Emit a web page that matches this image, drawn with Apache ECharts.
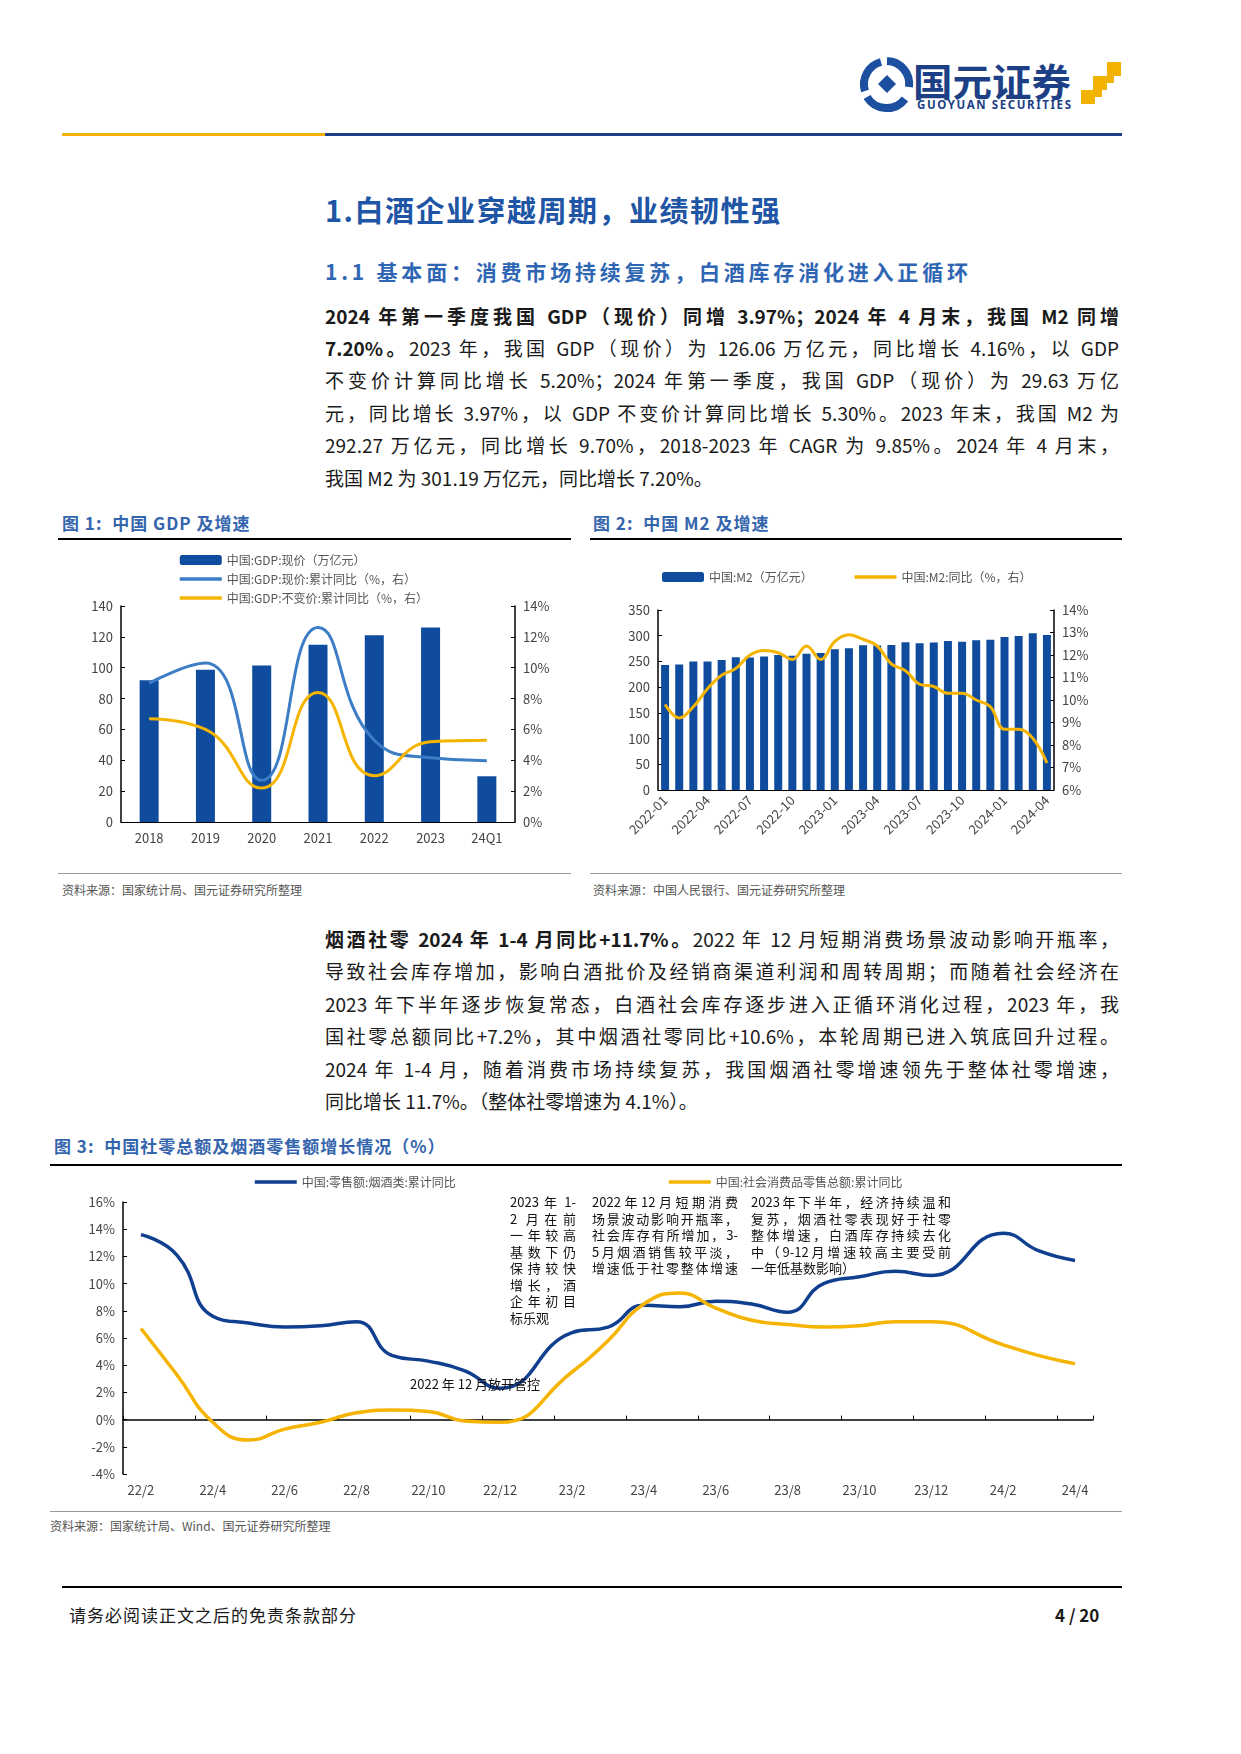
<!DOCTYPE html>
<html><head><meta charset="utf-8">
<script src="https://cdn.jsdelivr.net/npm/echarts@6/dist/echarts.min.js"></script>
<style>
html,body{margin:0;padding:0;background:#fff;}
#page{position:relative;width:1241px;height:1754px;background:#fff;font-family:"Noto Sans CJK SC","Noto Sans",sans-serif;color:#1a1a1a;overflow:hidden;}
.abs{position:absolute;}
.pl{position:absolute;left:325px;width:794px;height:32px;line-height:32px;font-size:19px;white-space:nowrap;text-align:justify;text-align-last:justify;}
.pl.last{text-align-last:left;}
.figt{position:absolute;font-size:17px;font-weight:bold;color:#3565ad;letter-spacing:1px;line-height:22px;}
.src{position:absolute;font-size:12px;color:#555;line-height:16px;}
.ann{position:absolute;font-size:13px;line-height:16.5px;color:#111;z-index:5;}
.ann div{white-space:nowrap;text-align:justify;text-align-last:justify;}
.ann div.last{text-align-last:left;}
.chart{position:absolute;}
</style></head>
<body><div id="page">

<!-- logo -->
<svg class="abs" style="left:855px;top:55px" width="270" height="60" viewBox="0 0 270 60">
  <path d="M32 6 A23 23 0 0 1 54 32" fill="none" stroke="#1c4fa0" stroke-width="8"/>
  <path d="M50 44 A23 23 0 0 1 12 42" fill="none" stroke="#1c4fa0" stroke-width="8"/>
  <path d="M10 36 A23 23 0 0 1 26 7" fill="none" stroke="#1c4fa0" stroke-width="8"/>
  <polygon points="32,20 41,29 32,38 23,29" fill="#1c4fa0"/>
  <text x="58" y="41" font-size="38" font-weight="bold" fill="#1c3f86" font-family="Noto Sans CJK SC" textLength="158" lengthAdjust="spacingAndGlyphs">国元证券</text>
  <text x="62" y="54" font-size="11.5" font-weight="bold" fill="#1c3f86" font-family="Noto Sans" textLength="154" lengthAdjust="spacing">GUOYUAN SECURITIES</text>
  <rect x="252" y="7" width="14" height="14" fill="#f2b300"/>
  <rect x="238" y="21" width="14" height="14" fill="#f2b300"/>
  <rect x="252" y="21" width="7" height="7" fill="#f2b300"/>
  <rect x="226" y="35" width="14" height="14" fill="#f2b300"/>
  <rect x="240" y="35" width="7" height="7" fill="#f2b300"/>
</svg>
<div class="abs" style="left:62px;top:133px;width:263px;height:3px;background:#f2b300"></div>
<div class="abs" style="left:325px;top:133px;width:797px;height:3px;background:#1c3f86"></div>

<div class="abs" style="left:325px;top:190px;font-size:29px;font-weight:bold;color:#1f55a5;line-height:38px;letter-spacing:1.5px;">1.白酒企业穿越周期，业绩韧性强</div>
<div class="abs" style="left:325px;top:257px;font-size:21px;font-weight:bold;color:#2f66b3;line-height:28px;letter-spacing:3.8px;">1.1 基本面：消费市场持续复苏，白酒库存消化进入正循环</div>

<div class="pl" style="top:300px"><b>2024 年第一季度我国 GDP（现价）同增 3.97%；2024 年 4 月末，我国 M2 同增</b></div>
<div class="pl" style="top:332px"><b>7.20%。</b>2023 年，我国 GDP（现价）为 126.06 万亿元，同比增长 4.16%，以 GDP</div>
<div class="pl" style="top:364px">不变价计算同比增长 5.20%；2024 年第一季度，我国 GDP（现价）为 29.63 万亿</div>
<div class="pl" style="top:397px">元，同比增长 3.97%，以 GDP 不变价计算同比增长 5.30%。2023 年末，我国 M2 为</div>
<div class="pl" style="top:429px">292.27 万亿元，同比增长 9.70%，2018-2023 年 CAGR 为 9.85%。2024 年 4 月末，</div>
<div class="pl last" style="top:462px">我国 M2 为 301.19 万亿元，同比增长 7.20%。</div>

<div class="figt" style="left:62px;top:512px">图 1:&nbsp; 中国 GDP 及增速</div>
<div class="abs" style="left:58px;top:538px;width:513px;height:1.5px;background:#000"></div>
<div class="figt" style="left:593px;top:512px">图 2:&nbsp; 中国 M2 及增速</div>
<div class="abs" style="left:590px;top:538px;width:532px;height:1.5px;background:#000"></div>

<div id="c1" class="chart" style="left:58px;top:545px;width:513px;height:325px"></div>
<div id="c2" class="chart" style="left:590px;top:545px;width:532px;height:325px"></div>

<div class="abs" style="left:58px;top:873px;width:513px;height:1px;background:#999"></div>
<div class="abs" style="left:590px;top:873px;width:532px;height:1px;background:#999"></div>
<div class="src" style="left:62px;top:882px">资料来源：国家统计局、国元证券研究所整理</div>
<div class="src" style="left:593px;top:882px">资料来源：中国人民银行、国元证券研究所整理</div>

<div class="pl" style="top:923px"><b>烟酒社零 2024 年 1-4 月同比+11.7%。</b>2022 年 12 月短期消费场景波动影响开瓶率，</div>
<div class="pl" style="top:955px">导致社会库存增加，影响白酒批价及经销商渠道利润和周转周期；而随着社会经济在</div>
<div class="pl" style="top:988px">2023 年下半年逐步恢复常态，白酒社会库存逐步进入正循环消化过程，2023 年，我</div>
<div class="pl" style="top:1020px">国社零总额同比+7.2%，其中烟酒社零同比+10.6%，本轮周期已进入筑底回升过程。</div>
<div class="pl" style="top:1053px">2024 年 1-4 月，随着消费市场持续复苏，我国烟酒社零增速领先于整体社零增速，</div>
<div class="pl last" style="top:1085px">同比增长 11.7%。（整体社零增速为 4.1%）。</div>

<div class="figt" style="left:54px;top:1135px">图 3:&nbsp; 中国社零总额及烟酒零售额增长情况（%）</div>
<div class="abs" style="left:50px;top:1164px;width:1072px;height:1.5px;background:#000"></div>

<div id="c3" class="chart" style="left:50px;top:1168px;width:1072px;height:340px"></div>

<div class="ann" style="left:510px;top:1194px;width:66px">
  <div>2023 年 1-</div><div>2 月在前</div><div>一年较高</div><div>基数下仍</div><div>保持较快</div><div>增长，酒</div><div>企年初目</div><div class="last">标乐观</div>
</div>
<div class="ann" style="left:592px;top:1194px;width:146px">
  <div>2022年12月短期消费</div><div>场景波动影响开瓶率，</div><div>社会库存有所增加，3-</div><div>5月烟酒销售较平淡，</div><div>增速低于社零整体增速</div>
</div>
<div class="ann" style="left:751px;top:1194px;width:200px">
  <div>2023年下半年，经济持续温和</div><div>复苏，烟酒社零表现好于社零</div><div>整体增速，白酒库存持续去化</div><div>中（9-12月增速较高主要受前</div><div class="last">一年低基数影响）</div>
</div>
<div class="ann" style="left:410px;top:1376px;">2022 年 12 月放开管控</div>

<div class="abs" style="left:50px;top:1511px;width:1072px;height:1px;background:#999"></div>
<div class="src" style="left:50px;top:1518px">资料来源：国家统计局、Wind、国元证券研究所整理</div>

<div class="abs" style="left:62px;top:1586px;width:1060px;height:1.5px;background:#000"></div>
<div class="abs" style="left:69px;top:1603px;font-size:17px;line-height:24px;letter-spacing:1px;">请务必阅读正文之后的免责条款部分</div>
<div class="abs" style="left:1055px;top:1603px;font-size:17px;line-height:24px;font-weight:bold;">4 / 20</div>

</div>
<script>
// ---------- data ----------
const gdpYears = ['2018','2019','2020','2021','2022','2023','24Q1'];
const gdpNominal = [91.9, 98.7, 101.4, 114.9, 121.0, 126.06, 29.63];
const gdpNominalYoY = [9.0, 10.3, 2.7, 12.6, 5.3, 4.16, 3.97];
const gdpRealYoY = [6.7, 6.0, 2.2, 8.4, 3.0, 5.2, 5.3];

const m2Months = ['2022-01','2022-02','2022-03','2022-04','2022-05','2022-06','2022-07','2022-08','2022-09','2022-10','2022-11','2022-12',
  '2023-01','2023-02','2023-03','2023-04','2023-05','2023-06','2023-07','2023-08','2023-09','2023-10','2023-11','2023-12',
  '2024-01','2024-02','2024-03','2024-04'];
const m2Values = [243.1,244.2,249.8,249.9,252.7,258.2,257.8,259.5,262.7,261.2,264.7,266.4,
  273.8,275.5,281.5,280.9,282.1,287.3,285.4,286.9,289.7,288.2,291.0,292.3,
  297.6,299.6,304.8,301.2];
const m2YoY = [9.8,9.2,9.7,10.5,11.1,11.4,12.0,12.2,12.1,11.8,12.4,11.8,
  12.6,12.9,12.7,12.4,11.6,11.3,10.7,10.6,10.3,10.3,10.0,9.7,
  8.7,8.7,8.3,7.2];

const retailMonths = ['22/2','22/3','22/4','22/5','22/6','22/7','22/8','22/9','22/10','22/11','22/12',
  '23/1','23/2','23/3','23/4','23/5','23/6','23/7','23/8','23/9','23/10','23/11','23/12',
  '24/1','24/2','24/3','24/4'];
const tobaccoYoY = [13.6,12.1,7.6,7.1,6.8,6.9,7.2,4.7,4.3,3.6,2.3,
  null,6.4,6.8,8.4,8.3,8.7,8.5,7.9,10.0,10.5,10.9,10.6,
  null,13.7,12.4,11.7];
const retailYoY = [6.7,3.3,-0.2,-1.5,-0.7,-0.2,0.5,0.7,0.6,-0.1,-0.2,
  null,3.5,5.8,8.5,9.3,8.2,7.3,7.0,6.8,6.9,7.2,7.2,
  null,5.5,4.7,4.1];

const gdpSeriesNames = ['中国:GDP:现价（万亿元）','中国:GDP:现价:累计同比（%，右）','中国:GDP:不变价:累计同比（%，右）'];
const m2SeriesNames = ['中国:M2（万亿元）','中国:M2:同比（%，右）'];
const retailSeriesNames = ['中国:零售额:烟酒类:累计同比','中国:社会消费品零售总额:累计同比'];

// ---------- style ----------
const FONT = '"Noto Sans CJK SC","Noto Sans",sans-serif';
const BAR = '#0f4c9e';
const LBLUE = '#3d7dc6';
const GOLD = '#f5b400';
const NAVY = '#0f3f8e';
const LAB = {color:'#444', fontSize:13, fontFamily:FONT};
const axisLineBlk = {show:true, lineStyle:{color:'#000', width:1.5}};
const tickIn = {show:true, inside:true, length:4, lineStyle:{color:'#000'}};
const lineLegend = (name) => ({name:name, itemStyle:{opacity:0}, lineStyle:{width:3.5}});

// ---------- chart 1 ----------
const c1 = echarts.init(document.getElementById('c1'));
c1.setOption({
  animation:false,
  textStyle:{fontFamily:FONT},
  legend:{orient:'vertical', left:115, top:4, itemWidth:42, itemHeight:10, itemGap:7,
    textStyle:{fontSize:12, color:'#555', lineHeight:12},
    data:[gdpSeriesNames[0], lineLegend(gdpSeriesNames[1]), lineLegend(gdpSeriesNames[2])]},
  grid:{left:63, right:56, top:61, bottom:48},
  xAxis:{type:'category', data:gdpYears, axisLine:{lineStyle:{color:'#000'}}, axisTick:{show:false},
    axisLabel:Object.assign({margin:10}, LAB)},
  yAxis:[
    {type:'value', min:0, max:140, interval:20, axisLine:axisLineBlk, axisTick:tickIn, splitLine:{show:false}, axisLabel:LAB},
    {type:'value', min:0, max:14, interval:2, position:'right', axisLine:axisLineBlk, axisTick:tickIn, splitLine:{show:false},
      axisLabel:Object.assign({formatter:'{value}%'}, LAB)}
  ],
  series:[
    {name:gdpSeriesNames[0], type:'bar', data:gdpNominal, barWidth:19, itemStyle:{color:BAR}},
    {name:gdpSeriesNames[1], type:'line', yAxisIndex:1, data:gdpNominalYoY, smooth:0.5, symbol:'none',
      lineStyle:{color:LBLUE, width:3}, itemStyle:{color:LBLUE}},
    {name:gdpSeriesNames[2], type:'line', yAxisIndex:1, data:gdpRealYoY, smooth:0.5, symbol:'none',
      lineStyle:{color:GOLD, width:3}, itemStyle:{color:GOLD}}
  ]
});

// ---------- chart 2 ----------
const c2 = echarts.init(document.getElementById('c2'));
c2.setOption({
  animation:false,
  textStyle:{fontFamily:FONT},
  legend:{left:67, top:21, itemWidth:42, itemHeight:10, itemGap:40,
    textStyle:{fontSize:12, color:'#555'}, data:[m2SeriesNames[0], lineLegend(m2SeriesNames[1])]},
  grid:{left:68, right:68, top:65, bottom:80},
  xAxis:{type:'category', data:m2Months, axisLine:{lineStyle:{color:'#000'}}, axisTick:{show:false},
    axisLabel:Object.assign({interval:2, rotate:45, margin:8}, LAB)},
  yAxis:[
    {type:'value', min:0, max:350, interval:50, axisLine:axisLineBlk, axisTick:tickIn, splitLine:{show:false}, axisLabel:LAB},
    {type:'value', min:6, max:14, interval:1, position:'right', axisLine:axisLineBlk, axisTick:tickIn, splitLine:{show:false},
      axisLabel:Object.assign({formatter:'{value}%'}, LAB)}
  ],
  series:[
    {name:m2SeriesNames[0], type:'bar', data:m2Values, barWidth:8, itemStyle:{color:BAR}},
    {name:m2SeriesNames[1], type:'line', yAxisIndex:1, data:m2YoY, smooth:0.4, symbol:'none',
      lineStyle:{color:GOLD, width:3}, itemStyle:{color:GOLD}}
  ]
});

// ---------- chart 3 ----------
const c3 = echarts.init(document.getElementById('c3'));
c3.setOption({
  animation:false,
  textStyle:{fontFamily:FONT},
  legend:[
    {left:198, top:3, itemWidth:42, itemHeight:10, textStyle:{fontSize:12, color:'#555'}, data:[lineLegend(retailSeriesNames[0])]},
    {left:612, top:3, itemWidth:42, itemHeight:10, textStyle:{fontSize:12, color:'#555'}, data:[lineLegend(retailSeriesNames[1])]}
  ],
  grid:{left:73, right:29, top:34, bottom:34},
  xAxis:[
    {type:'category', data:retailMonths, axisLine:{show:false, onZero:false}, axisTick:{show:false},
      axisLabel:Object.assign({interval:1, margin:10}, LAB)},
    {type:'category', data:retailMonths, position:'bottom', axisLine:{show:true, onZero:true, lineStyle:{color:'#000', width:1.5}},
      axisTick:{show:true, inside:true, interval:1, length:4, lineStyle:{color:'#000'}}, axisLabel:{show:false}}
  ],
  yAxis:{type:'value', min:-4, max:16, interval:2, axisLine:axisLineBlk, axisTick:tickIn, splitLine:{show:false},
    axisLabel:Object.assign({formatter:'{value}%'}, LAB)},
  series:[
    {name:retailSeriesNames[0], type:'line', data:tobaccoYoY, connectNulls:true, smooth:0.5, symbol:'none',
      lineStyle:{color:NAVY, width:3.5}, itemStyle:{color:NAVY}},
    {name:retailSeriesNames[1], type:'line', data:retailYoY, connectNulls:true, smooth:0.5, symbol:'none',
      lineStyle:{color:GOLD, width:3.5}, itemStyle:{color:GOLD}}
  ]
});
</script>
</body></html>
